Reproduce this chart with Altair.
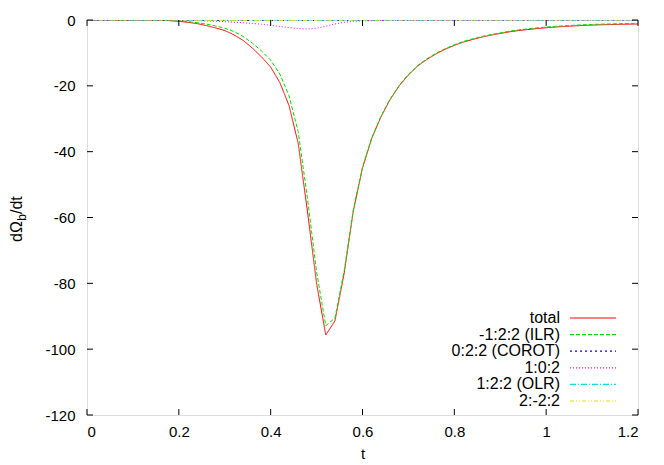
import altair as alt
import pandas as pd

# time grid
t = [0.00, 0.02, 0.04, 0.06, 0.08, 0.10, 0.12, 0.14, 0.16, 0.18,
     0.20, 0.22, 0.24, 0.26, 0.28, 0.30, 0.32, 0.34, 0.36, 0.38,
     0.40, 0.42, 0.44, 0.46, 0.48, 0.50, 0.52, 0.54, 0.56, 0.58,
     0.60, 0.62, 0.64, 0.66, 0.68, 0.70, 0.72, 0.74, 0.76, 0.78,
     0.80, 0.82, 0.84, 0.86, 0.88, 0.90, 0.92, 0.94, 0.96, 0.98,
     1.00, 1.02, 1.04, 1.06, 1.08, 1.10, 1.12, 1.14, 1.16, 1.18, 1.20]

total = [0, 0, 0, 0, 0, 0, 0, -0.02, -0.08, -0.2,
         -0.4, -0.7, -1.1, -1.7, -2.4, -3.2, -4.5, -6.2, -8.5, -11.2,
         -14.3, -19.0, -26.0, -37.5, -58.0, -80.0, -95.7, -91.4, -77.0, -58.0,
         -45.0, -36.0, -29.5, -24.2, -20.0, -16.7, -14.0, -12.0, -10.3, -8.9,
         -7.7, -6.7, -5.9, -5.2, -4.6, -4.1, -3.6, -3.2, -2.9, -2.6,
         -2.35, -2.15, -1.95, -1.8, -1.65, -1.55, -1.45, -1.38, -1.32, -1.27, -1.22]

ilr = [0, 0, 0, 0, 0, 0, 0, -0.01, -0.05, -0.13,
       -0.28, -0.5, -0.8, -1.25, -1.8, -2.5, -3.5, -5.0, -7.0, -9.4,
       -12.2, -16.4, -23.0, -34.0, -54.0, -76.5, -92.9, -90.5, -76.3, -57.6,
       -44.7, -35.8, -29.3, -24.0, -19.8, -16.5, -13.8, -11.8, -10.1, -8.7,
       -7.5, -6.5, -5.7, -5.0, -4.4, -3.9, -3.4, -3.0, -2.7, -2.4,
       -2.15, -1.95, -1.75, -1.6, -1.45, -1.35, -1.25, -1.18, -1.12, -1.07, -1.02]

corot = [0, 0, 0, 0, 0, 0, 0, 0, 0, -0.02,
         -0.04, -0.05, -0.06, -0.07, -0.08, -0.09, -0.1, -0.1, -0.1, -0.1,
         -0.1, -0.1, -0.1, -0.1, -0.1, -0.1, -0.09, -0.08, -0.07, -0.06,
         -0.05, -0.05, -0.04, -0.04, -0.03, -0.03, -0.02, -0.02, -0.02, -0.01,
         -0.01, -0.01, -0.01, 0, 0, 0, 0, 0, 0, 0,
         0, 0, 0, 0, 0, 0, 0, 0, 0, 0, 0]

res102 = [0, 0, 0, 0, 0, 0, 0, 0, 0, 0,
          -0.05, -0.1, -0.15, -0.25, -0.35, -0.5, -0.65, -0.85, -1.05, -1.3,
          -1.6, -1.95, -2.3, -2.6, -2.75, -2.5, -1.9, -1.2, -0.7, -0.4,
          -0.25, -0.2, -0.15, -0.12, -0.1, -0.1, -0.08, -0.07, -0.06, -0.05,
          -0.05, -0.05, -0.04, -0.04, -0.04, -0.03, -0.03, -0.03, -0.03, -0.02,
          -0.02, -0.02, -0.02, -0.02, -0.01, -0.01, -0.01, -0.01, -0.01, -0.01, -0.01]

olr = [0, 0, 0, 0, 0, 0, 0, 0, 0, 0,
       -0.01, -0.01, -0.02, -0.02, -0.02, -0.03, -0.03, -0.03, -0.03, -0.03,
       -0.03, -0.03, -0.03, -0.03, -0.03, -0.03, -0.03, -0.03, -0.02, -0.02,
       -0.02, -0.02, -0.02, -0.01, -0.01, -0.01, -0.01, -0.01, -0.01, -0.01,
       0, 0, 0, 0, 0, 0, 0, 0, 0, 0,
       0, 0, 0, 0, 0, 0, 0, 0, 0, 0, 0]

res2m22 = [0, 0, 0, 0, 0, 0, 0, 0, 0, -0.02,
           -0.04, -0.06, -0.08, -0.1, -0.12, -0.14, -0.15, -0.16, -0.17, -0.17,
           -0.17, -0.16, -0.15, -0.14, -0.12, -0.1, -0.08, -0.06, -0.04, -0.03,
           -0.02, -0.02, -0.01, -0.01, 0, 0, 0, 0, 0, 0,
           0, 0, 0, 0, 0, 0, 0, 0, 0, 0,
           0, 0, 0, 0, 0, 0, 0, 0, 0, 0, 0]

series_names = ["total", "-1:2:2 (ILR)", "0:2:2 (COROT)", "1:0:2", "1:2:2 (OLR)", "2:-2:2"]
series_values = [total, ilr, corot, res102, olr, res2m22]
colors = ["#ff0000", "#00e000", "#0000ff", "#ff00ff", "#00e0e0", "#e0e000"]
dashes = [[1, 0], [4, 2], [2, 3], [1, 2], [6, 2, 1, 2], [4, 2, 1, 2, 1, 2]]

x_ticks = [0, 0.2, 0.4, 0.6, 0.8, 1, 1.2]
y_ticks = [-120, -100, -80, -60, -40, -20, 0]

rows = []
for k, (name, vals) in enumerate(zip(series_names, series_values)):
    for tt, v in zip(t, vals):
        rows.append({"t": tt, "v": v, "series": name, "k": k})
df = pd.DataFrame(rows)

legend_df = pd.DataFrame({"series": series_names, "row": list(range(len(series_names)))})

FONT = "Liberation Sans"
xscale = alt.Scale(domain=[0, 1.2], nice=False, zero=False)
yscale = alt.Scale(domain=[-120, 0], nice=False, zero=False)
cscale = alt.Scale(domain=series_names, range=colors)
dscale = alt.Scale(domain=series_names, range=dashes)

lines = alt.Chart(df).mark_line(strokeWidth=1, clip=True).encode(
    x=alt.X("t:Q", scale=xscale,
            axis=alt.Axis(values=x_ticks, title="t", grid=False, domain=False,
                          tickSize=0, labelPadding=9, labelExpr="datum.value + ''",
                          labelFont=FONT, labelFontSize=15, titleFont=FONT,
                          titleFontSize=15, titleFontWeight="normal", titlePadding=7,
                          labelColor="black", titleColor="black")),
    y=alt.Y("v:Q", scale=yscale,
            axis=alt.Axis(values=y_ticks, title=None, grid=False, domain=False,
                          tickSize=0, labelPadding=12, labelExpr="datum.value + ''",
                          labelFont=FONT, labelFontSize=15, labelColor="black")),
    color=alt.Color("series:N", sort=series_names, scale=cscale, legend=None),
    strokeDash=alt.StrokeDash("series:N", sort=series_names, scale=dscale, legend=None),
    order="k:Q",
    detail="series:N",
)

# inward ticks (gnuplot style, mirrored on all sides)
xt_df = pd.DataFrame({"x": x_ticks * 2,
                      "y": [-120] * 7 + [0] * 7,
                      "y2": [-118.2] * 7 + [-1.8] * 7})
yt_df = pd.DataFrame({"y": y_ticks * 2,
                      "x": [0] * 7 + [1.2] * 7,
                      "x2": [0.013] * 7 + [1.187] * 7})
xt = alt.Chart(xt_df).mark_rule(color="black", strokeWidth=1).encode(
    x=alt.X("x:Q", scale=xscale), y=alt.Y("y:Q", scale=yscale), y2="y2:Q")
yt = alt.Chart(yt_df).mark_rule(color="black", strokeWidth=1).encode(
    y=alt.Y("y:Q", scale=yscale), x=alt.X("x:Q", scale=xscale), x2="x2:Q")

main = alt.layer(lines, xt, yt)

# legend (gnuplot style: label on the left, line sample on the right)
rowscale = alt.Scale(domain=[0, 5], range=[298, 381])
leg_lines = alt.Chart(legend_df).mark_rule(strokeWidth=1.2).encode(
    y=alt.Y("row:Q", scale=rowscale, axis=None),
    x=alt.value(483), x2=alt.value(529),
    color=alt.Color("series:N", scale=cscale, legend=None),
    strokeDash=alt.StrokeDash("series:N", scale=dscale, legend=None),
)
leg_text = alt.Chart(legend_df).mark_text(align="right", baseline="middle", font=FONT,
                                          fontSize=16, color="black").encode(
    y=alt.Y("row:Q", scale=rowscale, axis=None),
    x=alt.value(473),
    text="series:N",
)
legend = alt.layer(leg_lines, leg_text)

# y-axis title with subscript
one = pd.DataFrame({"a": [0]})
t1 = alt.Chart(one).mark_text(angle=270, align="left", baseline="alphabetic",
                              font=FONT, fontSize=16, color="black").encode(
    x=alt.value(-65), y=alt.value(222), text=alt.value("dΩ"))
t2 = alt.Chart(one).mark_text(angle=270, align="left", baseline="alphabetic",
                              font=FONT, fontSize=12, color="black").encode(
    x=alt.value(-61), y=alt.value(200.8), text=alt.value("b"))
t3 = alt.Chart(one).mark_text(angle=270, align="left", baseline="alphabetic",
                              font=FONT, fontSize=16, color="black").encode(
    x=alt.value(-65), y=alt.value(194), text=alt.value("/dt"))

chart = alt.layer(main, legend, t1, t2, t3).resolve_scale(y="independent").properties(
    width=551, height=395,
    autosize=alt.AutoSizeParams(type="none"),
    padding={"left": 79, "top": 12, "right": 18, "bottom": 50},
).configure_view(stroke="black", strokeWidth=1).configure(background="white")

chart.save("out.html", embed_options={"renderer": "svg", "actions": False})
